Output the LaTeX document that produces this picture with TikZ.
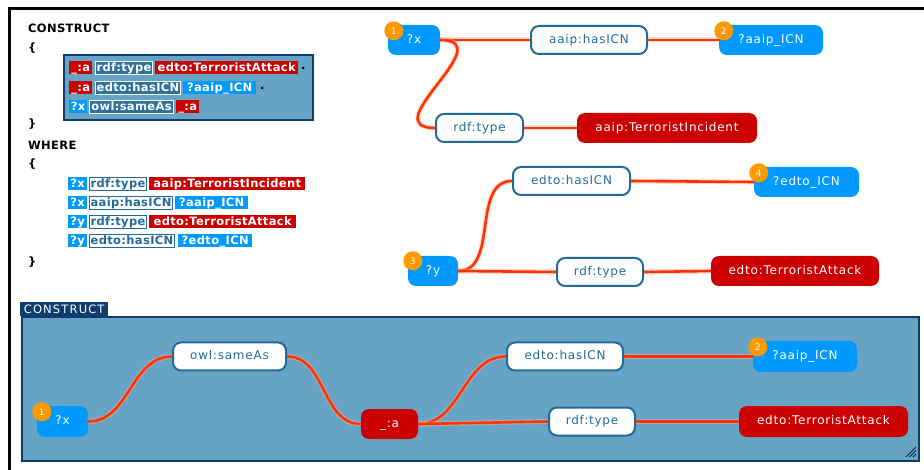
\documentclass[tikz,border=0pt]{standalone}
\usepackage{fontspec}
\setmainfont{DejaVu Sans}
\newfontfamily\gfont{DejaVu Sans}[LetterSpace=6.5]
\newfontfamily\cfont{DejaVu Sans}[LetterSpace=3]
\newfontfamily\tfont{DejaVu Sans}[LetterSpace=10]
\newfontfamily\bfont{DejaVu Sans}
\usetikzlibrary{calc}
\definecolor{varblue}{HTML}{0099FF}
\definecolor{litred}{HTML}{CC0000}
\definecolor{predc}{HTML}{236A9A}
\definecolor{panelc}{HTML}{67A3C4}
\definecolor{navyc}{HTML}{0E3C6E}
\definecolor{edgec}{HTML}{FF3300}
\definecolor{badgec}{HTML}{FF9900}
\definecolor{inpred}{HTML}{2F709C}
\pgfdeclarelayer{bg}\pgfdeclarelayer{edges}\pgfsetlayers{bg,edges,main}
\tikzset{
 gnode/.style={rounded corners=8pt, minimum height=30pt, inner sep=0pt, font=\gfont\fontsize{12}{14}\selectfont, text height=9pt, text depth=2.5pt},
 gvar/.style={gnode, fill=varblue, text=white},
 gpred/.style={gnode, fill=white, draw=predc, line width=2pt, text=predc, minimum height=28pt},
 gres/.style={gnode, fill=litred, text=white},
 badge/.style={circle, fill=badgec, text=white, minimum size=19pt, inner sep=0pt, font=\bfont\fontsize{9}{10}\selectfont},
 tok/.style={anchor=west, inner sep=0pt, minimum height=13pt, font=\cfont\bfseries\fontsize{11.5}{13}\selectfont, text height=8.7pt, text depth=2.2pt},
 tvar/.style={tok, fill=varblue, text=white},
 tres/.style={tok, fill=litred, text=white},
 tpredw/.style={tok, fill=white, draw=predc, line width=1pt, text=predc},
 tpredb/.style={tok, fill=inpred, draw=white, line width=1pt, text=white},
 kw/.style={anchor=west, inner sep=0pt, font=\cfont\bfseries\fontsize{11.5}{13}\selectfont, text=black},
 link/.style={draw=edgec, line width=2.6pt},
 halo/.style={draw=edgec!40, line width=5pt, opacity=0.45},
}
\newcommand\mylink[3][]{\draw[halo] (#2) to[#1] (#3); \draw[link] (#2) to[#1] (#3);}
\begin{document}
\begin{tikzpicture}[x=1pt,y=-1pt]
\useasboundingbox (0,0) rectangle (924,470);
% outer frame
\draw[black, line width=2.8pt] (9.5,480) -- (9.5,8.5) -- (935,8.5);

% ---------- left text ----------
\node[kw] (hc) at (28,28) {CONSTRUCT};
\node[kw] (ob1) at (28,48) {\{};
\node[fill=panelc, draw=navyc, line width=2pt, minimum width=249pt, minimum height=65pt, anchor=north west, inner sep=0pt] (cbox) at (63,54) {};
\node[tres, minimum width=23pt] (c1s) at (69,68) {\_:a};
\node[tpredb, minimum width=57pt] (c1p) at (95,68) {rdf:type};
\node[tres, minimum width=143pt] (c1o) at (155,68) {edto:TerroristAttack};
\node[kw] (c1d) at (301,68) {.};
\node[tres, minimum width=23pt] (c2s) at (69,88) {\_:a};
\node[tpredb, minimum width=85pt] (c2p) at (95,88) {edto:hasICN};
\node[tvar, minimum width=73pt] (c2o) at (183,88) {?aaip\_ICN};
\node[kw] (c2d) at (260,88) {.};
\node[tvar, minimum width=18pt] (c3s) at (69,107) {?x};
\node[tpredb, minimum width=84pt] (c3p) at (89,107) {owl:sameAs};
\node[tres, minimum width=23pt] (c3o) at (176,107) {\_:a};
\node[kw] (cb1) at (28,124) {\}};
\node[kw] (hw) at (28,145) {WHERE};
\node[kw] (ob2) at (28,164) {\{};
\node[tvar, minimum width=19pt] (w1s) at (68,184) {?x};
\node[tpredw, minimum width=57pt] (w1p) at (89,184) {rdf:type};
\node[tres, minimum width=156pt] (w1o) at (149,184) {aaip:TerroristIncident};
\node[tvar, minimum width=19pt] (w2s) at (68,203) {?x};
\node[tpredw, minimum width=83pt] (w2p) at (89,203) {aaip:hasICN};
\node[tvar, minimum width=73pt] (w2o) at (175,203) {?aaip\_ICN};
\node[tvar, minimum width=19pt] (w3s) at (68,222) {?y};
\node[tpredw, minimum width=57pt] (w3p) at (89,222) {rdf:type};
\node[tres, minimum width=147pt] (w3o) at (149,222) {edto:TerroristAttack};
\node[tvar, minimum width=19pt] (w4s) at (68,241) {?y};
\node[tpredw, minimum width=85pt] (w4p) at (89,241) {edto:hasICN};
\node[tvar, minimum width=74pt] (w4o) at (178,241) {?edto\_ICN};
\node[kw] (cb2) at (28,262) {\}};

% ---------- top graph ----------
\node[gvar, minimum width=52pt] (tx) at (414,40) {?x};
\node[gpred, minimum width=116pt] (th1) at (589,40) {aaip:hasICN};
\node[gvar, minimum width=104pt] (tv2) at (771,40) {?aaip\_ICN};
\node[gpred, minimum width=87pt] (tt1) at (479.5,128) {rdf:type};
\node[gres, minimum width=180pt] (tc1) at (667,128) {aaip:TerroristIncident};
\node[gvar, minimum width=50pt] (ty) at (433,271) {?y};
\node[gpred, minimum width=117pt] (th2) at (571.5,181) {edto:hasICN};
\node[gvar, minimum width=105pt] (tv4) at (806.5,182) {?edto\_ICN};
\node[gpred, minimum width=86pt] (tt2) at (600,272) {rdf:type};
\node[gres, minimum width=168pt] (tc2) at (795,271) {edto:TerroristAttack};
\node[badge] (bd1) at ($(tx.north west)+(6,6)$) {1};
\node[badge] (bd2) at ($(tv2.north west)+(5,6)$) {2};
\node[badge] (bd3) at ($(ty.north west)+(5,5)$) {3};
\node[badge] (bd4) at ($(tv4.north west)+(5,6)$) {4};

% ---------- bottom panel ----------
\begin{pgfonlayer}{bg}
\node[fill=panelc, draw=navyc, line width=2pt, anchor=north west, minimum width=897pt, minimum height=144pt, inner sep=0pt] (panel) at (21,316) {};
\end{pgfonlayer}
\node[fill=navyc, anchor=north west, minimum width=88pt, minimum height=14pt, inner sep=0pt, text=white, font=\tfont\fontsize{11.5}{12}\selectfont] (tab) at (20,302) {CONSTRUCT};
\draw[navyc!60!black, line width=0.8pt] (906,457) -- (916,447) (909.5,457) -- (916,450.5) (913,457) -- (916,454);

\node[gvar, minimum width=51pt, minimum height=31pt] (bx) at (62.5,421.5) {?x};
\node[gpred, minimum width=113pt] (bs) at (229.5,356.5) {owl:sameAs};
\node[gres, minimum width=57pt] (ba) at (389.5,424) {\_:a};
\node[gpred, minimum width=116pt] (bh) at (565,356.5) {edto:hasICN};
\node[gpred, minimum width=86pt] (bt) at (592,421.5) {rdf:type};
\node[gvar, minimum width=104pt, minimum height=31pt] (bv) at (805,356.5) {?aaip\_ICN};
\node[gres, minimum width=169pt, minimum height=31pt] (bc) at (823.5,421.5) {edto:TerroristAttack};
\node[badge] (bd5) at ($(bx.north west)+(5,6)$) {1};
\node[badge] (bd6) at ($(bv.north west)+(5,6)$) {2};

% ---------- connectors ----------
\begin{pgfonlayer}{edges}
\mylink{tx.east}{th1.west}
\mylink{th1.east}{tv2.west}
\mylink[out=0,in=180,looseness=1.8]{tx.east}{tt1.west}
\mylink{tt1.east}{tc1.west}
\mylink[out=0,in=180]{ty.east}{th2.west}
\mylink{th2.east}{tv4.west}
\mylink{ty.east}{tt2.west}
\mylink{tt2.east}{tc2.west}
\mylink[out=0,in=180]{bx.east}{bs.west}
\mylink[out=0,in=180]{bs.east}{ba.west}
\mylink[out=0,in=180]{ba.east}{bh.west}
\mylink{ba.east}{bt.west}
\mylink{bh.east}{bv.west}
\mylink{bt.east}{bc.west}
\end{pgfonlayer}
\end{tikzpicture}
\end{document}
